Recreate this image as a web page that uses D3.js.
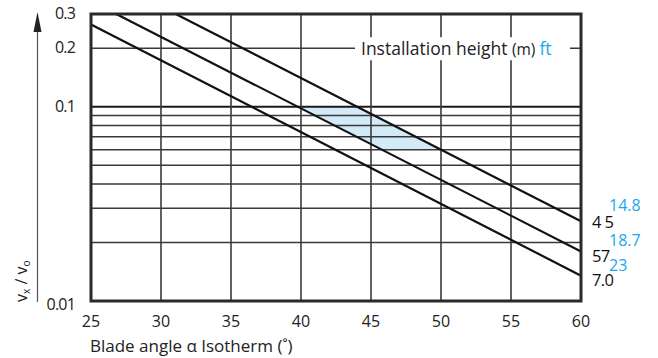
<!DOCTYPE html>
<html>
<head>
<meta charset="utf-8">
<script src="https://cdn.jsdelivr.net/npm/d3@7"></script>
<style>
  html, body { margin: 0; padding: 0; background: #fff; }
  svg { display: block; font-family: "Open Sans", "Noto Sans", sans-serif; }
</style>
</head>
<body>
<svg id="chart" width="658" height="358"></svg>
<script>
// Blade angle (degrees) on x, velocity ratio vx/vo on a log y axis
const xTicks = [25, 30, 35, 40, 45, 50, 55, 60];
const yTickLabels = [0.01, 0.1, 0.2, 0.3];
const yGridValues = [0.02, 0.03, 0.04, 0.05, 0.06, 0.07, 0.08, 0.09, 0.1, 0.2];

// Installation height lines: [angle, vx/vo] end points
const line45 = [[31.05, 0.3], [60, 0.0257]];
const line57 = [[26.8, 0.3], [60, 0.018]];
const line70 = [[25, 0.265], [60, 0.0135]];
const heightLabelsM = ["4 5", "57", "7.0"];
const heightLabelsFt = ["14.8", "18.7", "23"];

// Recommended range shaded between the 5.7 and 4.5 lines
const bandRange = [0.06, 0.1];

const W = 658, H = 358;
const margin = { top: 14, right: 77, bottom: 57, left: 91 };
const svg = d3.select("#chart");

const x = d3.scaleLinear().domain([25, 60]).range([margin.left, W - margin.right]);
const y = d3.scaleLog().domain([0.01, 0.3]).range([H - margin.bottom, margin.top]);

// angle on a line where it reaches a given ratio (straight in log space)
function angleAt(line, v) {
  const [a0, v0] = line[0], [a1, v1] = line[1];
  const t = (Math.log(v) - Math.log(v0)) / (Math.log(v1) - Math.log(v0));
  return a0 + t * (a1 - a0);
}

// shaded band
const band = [
  [angleAt(line57, bandRange[1]), bandRange[1]],
  [angleAt(line45, bandRange[1]), bandRange[1]],
  [angleAt(line45, bandRange[0]), bandRange[0]],
  [angleAt(line57, bandRange[0]), bandRange[0]]
];
svg.append("path")
  .attr("d", d3.line().x(d => x(d[0])).y(d => y(d[1]))(band) + "Z")
  .attr("fill", "#d3eaf7");

// horizontal grid
svg.append("g").selectAll("line").data(yGridValues).join("line")
  .attr("x1", x(25)).attr("x2", x(60))
  .attr("y1", d => y(d)).attr("y2", d => y(d))
  .attr("stroke", d => d === 0.1 ? "#1a1a1a" : "#3a3a3a")
  .attr("stroke-width", d => d === 0.1 ? 2 : 1.5);

// vertical grid
svg.append("g").selectAll("line").data(xTicks.slice(1, -1)).join("line")
  .attr("x1", d => x(d)).attr("x2", d => x(d))
  .attr("y1", y(0.3)).attr("y2", y(0.01))
  .attr("stroke", "#3a3a3a").attr("stroke-width", 1.6);

// height lines
const lineGen = d3.line().x(d => x(d[0])).y(d => y(d[1]));
svg.append("g").selectAll("path").data([line45, line57, line70]).join("path")
  .attr("d", lineGen)
  .attr("fill", "none").attr("stroke", "#111").attr("stroke-width", 2.2);

// legend title with white backing over the grid
const legend = svg.append("g");
legend.append("rect")
  .attr("x", 355).attr("y", y(0.2) - 11).attr("width", 215).attr("height", 23)
  .attr("fill", "#fff");
const lt = legend.append("text")
  .attr("x", 361).attr("y", y(0.2) + 7)
  .attr("font-size", 17.5).attr("fill", "#222");
lt.append("tspan").text("Installation height ");
lt.append("tspan").attr("font-size", 15.5).text("(m) ");
lt.append("tspan").attr("fill", "#1aa7ec").text("ft");

// frame
svg.append("rect")
  .attr("x", x(25)).attr("y", y(0.3))
  .attr("width", x(60) - x(25)).attr("height", y(0.01) - y(0.3))
  .attr("fill", "none").attr("stroke", "#2a2a2a").attr("stroke-width", 3);

// x tick labels
svg.append("g").selectAll("text").data(xTicks).join("text")
  .attr("x", d => x(d)).attr("y", 327)
  .attr("text-anchor", "middle").attr("font-size", 16).attr("fill", "#222")
  .text(d => d);

// y tick labels
svg.append("g").selectAll("text").data(yTickLabels).join("text")
  .attr("x", 75).attr("y", d => y(d) + (d === 0.01 ? 9 : 5))
  .attr("text-anchor", "end").attr("font-size", 16).attr("fill", "#222")
  .attr("letter-spacing", -0.8)
  .text(d => d);

// x axis title
svg.append("text")
  .attr("x", 90).attr("y", 352)
  .attr("font-size", 17).attr("fill", "#222")
  .text("Blade angle  \u03b1 Isotherm (\u02da)");

// y axis arrow
svg.append("line")
  .attr("x1", 37.5).attr("x2", 37.5).attr("y1", 28).attr("y2", 302)
  .attr("stroke", "#555").attr("stroke-width", 1.2);
svg.append("path")
  .attr("d", "M37.5,12 L41.5,32 L33.5,32 Z").attr("fill", "#222");

// y axis title
const yt = svg.append("text")
  .attr("transform", "translate(27,302) rotate(-90)")
  .attr("font-size", 16).attr("fill", "#222");
yt.append("tspan").text("v");
yt.append("tspan").attr("font-size", 10).attr("dy", 3).text("x");
yt.append("tspan").attr("dy", -3).text(" / v");
yt.append("tspan").attr("font-size", 10).attr("dy", 3).text("o");

// height labels at line ends (metres in black, feet in blue above)
const ends = [line45, line57, line70].map(l => l[1][1]);
svg.append("g").selectAll("text").data(heightLabelsM).join("text")
  .attr("x", 592).attr("y", (d, i) => y(ends[i]) + [7, 11, 10][i])
  .attr("font-size", 16.5).attr("fill", "#111").attr("letter-spacing", -0.6)
  .text(d => d);
svg.append("g").selectAll("text").data(heightLabelsFt).join("text")
  .attr("x", 609).attr("y", (d, i) => y(ends[i]) + [-10, -5, -5][i])
  .attr("font-size", 16).attr("fill", "#1aa7ec")
  .text(d => d);
</script>
</body>
</html>
